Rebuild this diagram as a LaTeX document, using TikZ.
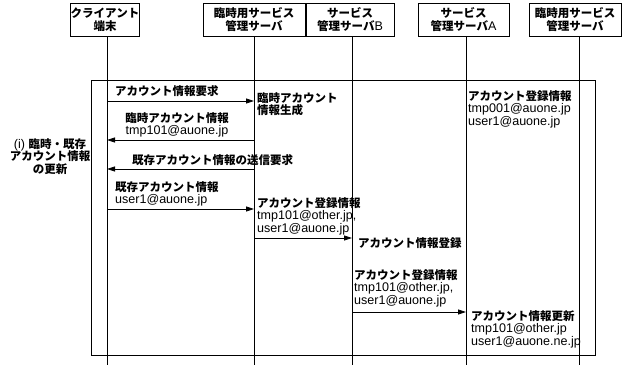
\documentclass[tikz,border=0pt]{standalone}
\usepackage{fontspec}
\setmainfont{Liberation Sans}[Scale=1.09]
\newfontfamily\jpfont{Noto Sans CJK JP}
\usetikzlibrary{arrows.meta}
\newcommand\J[1]{{\jpfont\bfseries #1}}
\tikzset{
  txt/.style={inner sep=0pt, font=\fontsize{11.5}{12.5}\selectfont, align=left, anchor=north west},
  ctxt/.style={inner sep=0pt, font=\fontsize{11.5}{12.5}\selectfont, align=center, anchor=north},
  actor/.style={draw, line width=0.9pt, inner sep=0pt, minimum height=33pt, align=center,
    font=\fontsize{11.5}{13}\selectfont},
  life/.style={line width=0.8pt},
  msg/.style={line width=0.8pt, -{Triangle[length=8pt,width=5pt]}},
  frame/.style={line width=0.9pt}
}
\begin{document}
\begin{tikzpicture}[x=1pt,y=-1pt]
\useasboundingbox (0,0) rectangle (636,365);
% actors
\node[actor, minimum width=68pt] (cl) at (105,19.5) {\J{クライアント}\\\J{端末}};
\node[actor, minimum width=102pt] (tmp) at (254,19.5) {\J{臨時用サービス}\\\J{管理サーバ}};
\node[actor, minimum width=88pt] (svb) at (350,19.5) {\J{サービス}\\\J{管理サーバ}B};
\node[actor, minimum width=91pt] (sva) at (463.5,20) {\J{サービス}\\\J{管理サーバ}A};
\node[actor, minimum width=92pt] (tmp2) at (575,19.5) {\J{臨時用サービス}\\\J{管理サーバ}};
% lifeline ends
\coordinate (clE) at (107,365);
\coordinate (tmpE) at (254,365);
\coordinate (svbE) at (352,365);
\coordinate (svaE) at (466,365);
\coordinate (tmp2E) at (579,365);
\draw[life] (cl.south -| clE) -- (clE);
\draw[life] (tmp.south -| tmpE) -- (tmpE);
\draw[life] (svb.south -| svbE) -- (svbE);
\draw[life] (sva.south -| svaE) -- (svaE);
\draw[life] (tmp2.south -| tmp2E) -- (tmp2E);
% frame
\coordinate (frA) at (91,80);
\coordinate (frB) at (595,355);
\draw[frame] (frA) rectangle (frB);
\node[ctxt] (sec) at (50,138) {(i) \J{臨時・既存}\\\J{アカウント情報}\\\J{の更新}};
% messages
\coordinate (m1a) at (107,101); \coordinate (m1b) at (254,101);
\draw[msg] (m1a) -- (m1b);
\node[txt] (l1) at (115,85) {\J{アカウント情報要求}};
\node[txt] (n1) at (257,92) {\J{臨時アカウント}\\\J{情報生成}};
\node[txt] (n0) at (468,90) {\J{アカウント登録情報}\\tmp001@auone.jp\\user1@auone.jp};

\coordinate (m2a) at (254,140); \coordinate (m2b) at (107,140);
\draw[msg] (m2a) -- (m2b);
\node[ctxt] (l2) at (177,112) {\J{臨時アカウント情報}\\tmp101@auone.jp};

\coordinate (m3a) at (254,169); \coordinate (m3b) at (107,169);
\draw[msg] (m3a) -- (m3b);
\node[txt] (l3) at (132,154) {\J{既存アカウント情報の送信要求}};

\coordinate (m4a) at (107,209); \coordinate (m4b) at (254,209);
\draw[msg] (m4a) -- (m4b);
\node[txt] (l4) at (115,181) {\J{既存アカウント情報}\\user1@auone.jp};

\coordinate (m5a) at (254,238); \coordinate (m5b) at (352,238);
\draw[msg] (m5a) -- (m5b);
\node[txt] (l5) at (257,197) {\J{アカウント登録情報}\\tmp101@other.jp,\\user1@auone.jp};
\node[txt] (n2) at (358,237) {\J{アカウント情報登録}};

\coordinate (m6a) at (352,312); \coordinate (m6b) at (466,312);
\draw[msg] (m6a) -- (m6b);
\node[txt] (l6) at (354,269) {\J{アカウント登録情報}\\tmp101@other.jp,\\user1@auone.jp};
\node[txt] (n3) at (471,310) {\J{アカウント情報更新}\\tmp101@other.jp\\user1@auone.ne.jp};
\end{tikzpicture}
\end{document}
